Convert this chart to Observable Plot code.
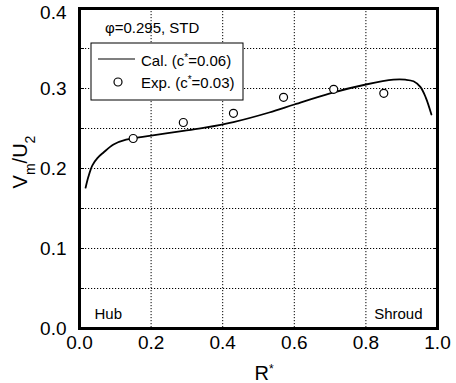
<!DOCTYPE html>
<html>
<head>
<meta charset="utf-8">
<script src="https://cdn.jsdelivr.net/npm/d3@7"></script>
<script src="https://cdn.jsdelivr.net/npm/@observablehq/plot@0.6"></script>
<style>
  body { margin: 0; background: #fff; }
  #chart svg text { font-family: "Liberation Sans", Arial, Helvetica, sans-serif; }
</style>
</head>
<body>
<div id="chart"></div>
<script>
// Calculated meridional velocity profile (c* = 0.06)
const calR = [0.017, 0.025, 0.036, 0.05, 0.067, 0.095, 0.13, 0.2, 0.29, 0.35, 0.43, 0.53, 0.6, 0.7, 0.8, 0.877, 0.91, 0.933, 0.952, 0.967, 0.983];
const calV = [0.176, 0.19, 0.204, 0.213, 0.22, 0.23, 0.236, 0.241, 0.247, 0.251, 0.258, 0.27, 0.28, 0.294, 0.305, 0.311, 0.311, 0.309, 0.302, 0.289, 0.2675];

// Measured points (c* = 0.03)
const expR = [0.15, 0.29, 0.43, 0.57, 0.71, 0.85];
const expV = [0.2375, 0.2575, 0.269, 0.289, 0.299, 0.294];

// Axis ticks and grid
const xTicks = [0, 0.2, 0.4, 0.6, 0.8, 1.0];
const xGrid = [0.2, 0.4, 0.6, 0.8];
const yTicks = [0, 0.1, 0.2, 0.3];
const yTopTick = [0.4];
const yGrid = [0.05, 0.1, 0.15, 0.2, 0.25, 0.3, 0.35];

const calData = calR.map((r, i) => ({r, v: calV[i]}));
const expData = expR.map((r, i) => ({r, v: expV[i]}));

const dotted = {stroke: "#000", strokeOpacity: 1, strokeWidth: 1, strokeDasharray: "1.2,1.8"};
const yLabelOpts = {anchor: "left", tickSize: 0, tickPadding: 13, tickFormat: d3.format(".1f"), fontSize: 19, label: null};

const chart = Plot.plot({
  width: 456,
  height: 383,
  marginLeft: 79,
  marginRight: 19,
  marginTop: 8,
  marginBottom: 55,
  style: {fontFamily: "Liberation Sans, Arial, sans-serif", background: "#fff", color: "#000"},
  x: {domain: [0, 1]},
  y: {domain: [0, 0.4]},
  marks: [
    Plot.gridY(yGrid, dotted),
    Plot.gridX(xGrid, dotted),
    Plot.axisY(yGrid, {anchor: "left", tickSize: -5, tickFormat: () => "", label: null}),
    Plot.axisY(yGrid, {anchor: "right", tickSize: -5, tickFormat: () => "", label: null}),
    Plot.axisY(yTicks, yLabelOpts),
    Plot.axisY(yTopTick, {...yLabelOpts, dy: 4}),
    Plot.axisX(xTicks, {anchor: "bottom", tickSize: 0, tickPadding: 7, tickFormat: d3.format(".1f"), fontSize: 19, label: null}),
    Plot.line(calData, {x: "r", y: "v", curve: "catmull-rom", stroke: "#000", strokeWidth: 1.8}),
    Plot.dot(expData, {x: "r", y: "v", r: 4, stroke: "#000", fill: "#fff", strokeWidth: 1.2}),
    Plot.text(["Hub"], {frameAnchor: "bottom-left", textAnchor: "start", lineAnchor: "bottom", dx: 15, dy: -10, fontSize: 15}),
    Plot.text(["Shroud"], {frameAnchor: "bottom-right", textAnchor: "end", lineAnchor: "bottom", dx: -15, dy: -10, fontSize: 15}),
    Plot.frame({stroke: "#000", strokeWidth: 3})
  ]
});

document.getElementById("chart").append(chart);

const svg = d3.select(chart);
const font = "Liberation Sans, Arial, sans-serif";

// Y axis title: V_m / U_2
const yl = svg.append("text")
  .attr("transform", "translate(27,162) rotate(-90)")
  .attr("text-anchor", "middle")
  .attr("font-family", font)
  .attr("font-size", 20)
  .attr("fill", "#000");
yl.append("tspan").text("V");
yl.append("tspan").attr("font-size", 14).attr("baseline-shift", "sub").text("m");
yl.append("tspan").text("/U");
yl.append("tspan").attr("font-size", 14).attr("baseline-shift", "sub").text("2");

// X axis title: R*
const xl = svg.append("text")
  .attr("x", 264).attr("y", 380)
  .attr("text-anchor", "middle")
  .attr("font-family", font)
  .attr("font-size", 20)
  .attr("fill", "#000");
xl.append("tspan").text("R");
xl.append("tspan").attr("font-size", 12).attr("baseline-shift", "super").text("*");

// Condition label
svg.append("text")
  .attr("x", 105).attr("y", 33)
  .attr("text-anchor", "start")
  .attr("font-family", font)
  .attr("font-size", 15)
  .attr("fill", "#000")
  .text("φ=0.295, STD");

// Legend
const lg = svg.append("g").attr("text-anchor", "start");
lg.append("rect")
  .attr("x", 91).attr("y", 43).attr("width", 152).attr("height", 57)
  .attr("fill", "#fff").attr("stroke", "#000").attr("stroke-width", 1);
lg.append("line")
  .attr("x1", 98).attr("x2", 135).attr("y1", 59).attr("y2", 59)
  .attr("stroke", "#000").attr("stroke-width", 1.2);
lg.append("circle")
  .attr("cx", 118).attr("cy", 82).attr("r", 4)
  .attr("fill", "#fff").attr("stroke", "#000").attr("stroke-width", 1.2);

function legendLabel(y, name, value) {
  const t = lg.append("text")
    .attr("x", 141).attr("y", y)
    .attr("text-anchor", "start")
    .attr("font-family", font)
    .attr("font-size", 15)
    .attr("fill", "#000");
  t.append("tspan").text(name + " (c");
  t.append("tspan").attr("font-size", 10).attr("baseline-shift", "super").text("*");
  t.append("tspan").text("=" + value + ")");
}
legendLabel(66, "Cal.", "0.06");
legendLabel(88, "Exp.", "0.03");
</script>
</body>
</html>
